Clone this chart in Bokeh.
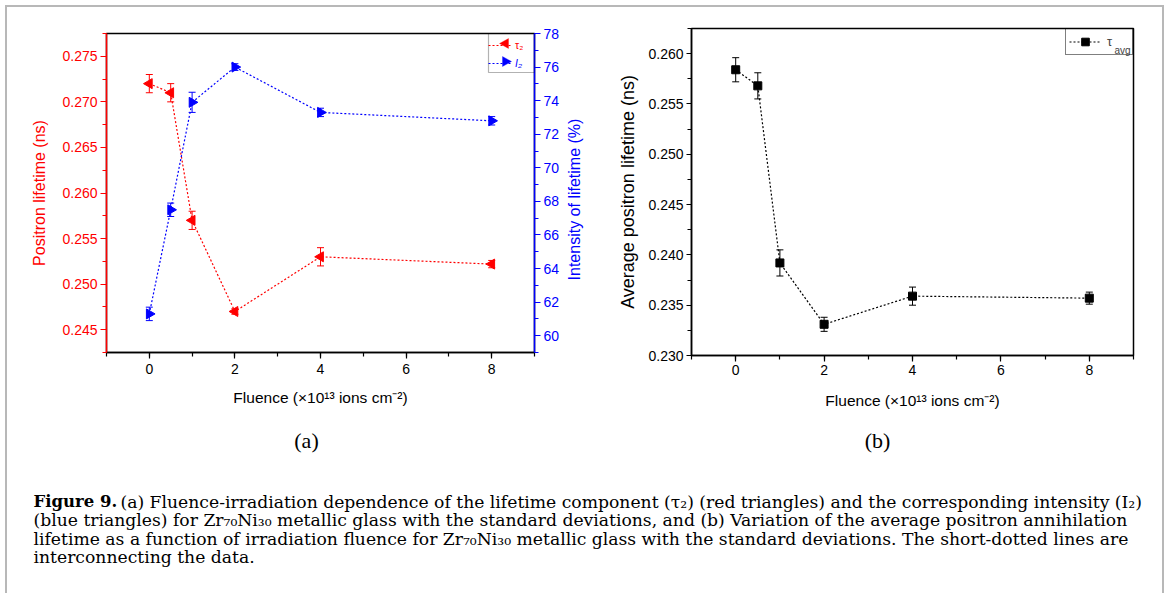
import numpy as np
from bokeh.plotting import figure
from bokeh.models import (Range1d, LinearAxis, SingleIntervalTicker, NumeralTickFormatter,
                          ColumnDataSource, Whisker, TeeHead, Legend, LegendItem,
                          BoxAnnotation, Label, PolyAnnotation)
from bokeh.layouts import column, row
from bokeh.embed import file_html
from bokeh.resources import INLINE
from bokeh.core.properties import value

# ---------------- data ----------------
fluence = [0, 0.5, 1, 2, 4, 8]
tau2 = [0.2720, 0.2710, 0.2570, 0.2470, 0.2530, 0.2522]
tau2_err = [0.0010, 0.0010, 0.0010, 0.0003, 0.0010, 0.0004]
i2 = [61.3, 67.5, 73.9, 76.0, 73.3, 72.8]
i2_err = [0.4, 0.4, 0.6, 0.2, 0.25, 0.25]
tau_avg = [0.2584, 0.2568, 0.2392, 0.2331, 0.2359, 0.2357]
tau_avg_err = [0.0012, 0.0013, 0.0013, 0.0007, 0.0009, 0.0006]

x_label = "Fluence (×10¹³ ions cm⁻²)"
right_label = "Intensity of lifetime (%)"
panel_labels = ["(a)", "(b)"]
caption_bold = "Figure 9."
caption_lines = [
    "(a) Fluence-irradiation dependence of the lifetime component (τ₂) (red triangles) and the corresponding intensity (I₂)",
    "(blue triangles) for Zr₇₀Ni₃₀ metallic glass with the standard deviations, and (b) Variation of the average positron annihilation",
    "lifetime as a function of irradiation fluence for Zr₇₀Ni₃₀ metallic glass with the standard deviations. The short-dotted lines are",
    "interconnecting the data.",
]

RED = "#ff0000"
BLUE = "#0000ff"
SANS = "Liberation Sans"
CAP_FONT = "DejaVu Serif"
DASH = "2 2"


def style_axis(ax, color, tick_out=6, minor_out=4, standoff=3, label_standoff=10, label_size="15.5px"):
    ax.axis_line_color = color
    ax.axis_line_width = 1.5
    ax.major_tick_line_color = color
    ax.minor_tick_line_color = color
    ax.major_tick_line_width = 1.2
    ax.minor_tick_line_width = 1.2
    ax.major_tick_in = 0
    ax.major_tick_out = tick_out
    ax.minor_tick_in = 0
    ax.minor_tick_out = minor_out
    ax.major_label_text_color = color
    ax.major_label_text_font = SANS
    ax.major_label_text_font_size = "14px"
    ax.major_label_standoff = standoff
    ax.axis_label_text_color = color
    ax.axis_label_text_font = SANS
    ax.axis_label_text_font_size = label_size
    ax.axis_label_text_font_style = "normal"
    ax.axis_label_standoff = label_standoff


def whisker(fig, x, y, err, color, y_range_name="default"):
    src = ColumnDataSource(dict(x=x, lo=np.array(y) - np.array(err), hi=np.array(y) + np.array(err)))
    w = Whisker(source=src, base="x", lower="lo", upper="hi", dimension="height",
                line_color=color, line_width=1,
                upper_head=TeeHead(size=7, line_color=color, line_width=1),
                lower_head=TeeHead(size=7, line_color=color, line_width=1),
                y_range_name=y_range_name)
    fig.add_layout(w)


def px2data(px, py, frame, xr, yr):
    """map page pixel position relative to a frame (l, r, t, b) to data coordinates"""
    l, r, t, b = frame
    return (xr[0] + (px - l) / (r - l) * (xr[1] - xr[0]),
            yr[1] - (py - t) / (b - t) * (yr[1] - yr[0]))


OX, OY = 7, 7          # page offset of layout content (margin + border)
H_TOP = 408
WA, WR = 559, 18       # panel (a), strip holding the right-axis title
WB = 1162 - (OX + WA + WR)

# ---------------- panel (a) ----------------
XR = (-1, 9)
YR_A = (0.2425, 0.2775)
FRAME_A = (106, 534, 33, 352)
pa = figure(width=WA, height=H_TOP, x_range=Range1d(*XR), y_range=Range1d(*YR_A),
            output_backend="svg", toolbar_location=None,
            min_border_left=FRAME_A[0] - OX, min_border_right=OX + WA - FRAME_A[1],
            min_border_top=FRAME_A[2] - OY, min_border_bottom=OY + H_TOP - FRAME_A[3])
pa.frame_align = False
pa.extra_y_ranges = {"i2": Range1d(59, 78)}
pa.grid.visible = False
pa.outline_line_color = "black"
pa.outline_line_width = 1.5

la = pa.line(fluence, tau2, line_color=RED, line_dash=DASH, line_width=1.2)
sa = pa.scatter(fluence, tau2, marker="triangle", angle=np.pi / 2, size=10,
                fill_color=RED, line_color=RED)
whisker(pa, fluence, tau2, tau2_err, RED)

lb = pa.line(fluence, i2, line_color=BLUE, line_dash=DASH, line_width=1.2, y_range_name="i2")
sb = pa.scatter(fluence, i2, marker="triangle", angle=-np.pi / 2, size=10,
                fill_color=BLUE, line_color=BLUE, y_range_name="i2")
whisker(pa, fluence, i2, i2_err, BLUE, "i2")

xa = pa.xaxis[0]
xa.ticker = SingleIntervalTicker(interval=2, num_minor_ticks=2)
xa.axis_label = x_label
style_axis(xa, "black", standoff=5, label_standoff=12)

ya = pa.yaxis[0]
ya.ticker = SingleIntervalTicker(interval=0.005, num_minor_ticks=2)
ya.formatter = NumeralTickFormatter(format="0.000")
ya.axis_label = "Positron lifetime (ns)"
style_axis(ya, RED, tick_out=6, standoff=3, label_standoff=11, label_size="16px")

ra = LinearAxis(y_range_name="i2", ticker=SingleIntervalTicker(interval=2, num_minor_ticks=2))
style_axis(ra, BLUE, tick_out=6, standoff=3, label_standoff=7)
pa.add_layout(ra, "right")

leg_kw = dict(border_line_color=None, background_fill_alpha=0, margin=0, padding=2,
              glyph_width=24, glyph_height=16, label_standoff=3, label_height=14,
              label_text_font=SANS, label_text_font_size="10.5px")
leg1 = Legend(items=[LegendItem(label="τ₂", renderers=[la])], location=(382, 299),
              label_text_color=RED, **leg_kw)
leg2 = Legend(items=[LegendItem(label="I₂", renderers=[lb])], location=(382, 281),
              label_text_color=BLUE, label_text_font_style="italic", **leg_kw)
pa.add_layout(leg1)
pa.add_layout(leg2)
bx0, by0 = px2data(488, 72, FRAME_A, XR, YR_A)
pa.add_layout(BoxAnnotation(left=bx0, right=XR[1], bottom=by0, top=YR_A[1],
                            fill_alpha=0, line_color="black", line_width=1.2))
# legend sample markers (left / right pointing triangles)
for pts, col in (([(499, 43), (508, 38), (508, 48)], RED), ([(502, 56), (502, 66), (511, 61)], BLUE)):
    d = [px2data(px, py, FRAME_A, XR, YR_A) for px, py in pts]
    pa.add_layout(PolyAnnotation(xs=[p[0] for p in d], ys=[p[1] for p in d],
                                 fill_color=col, fill_alpha=1, line_color=col, line_width=1))

# ---------------- strip with the right-axis title (reads bottom-to-top) ----------------
x0r = OX + WA
pr = figure(width=WR, height=H_TOP, x_range=Range1d(x0r, x0r + WR), y_range=Range1d(OY + H_TOP, OY),
            output_backend="svg", toolbar_location=None,
            min_border_left=0, min_border_right=0, min_border_top=0, min_border_bottom=0)
pr.frame_align = False
pr.axis.visible = False
pr.grid.visible = False
pr.outline_line_color = None
pr.text(x=[574], y=[199], text=[right_label], angle=np.pi / 2,
        text_align="center", text_baseline="middle", text_color=BLUE,
        text_font=value(SANS), text_font_size="16px")

# ---------------- panel (b) ----------------
YR_B = (0.230, 0.2625)
FRAME_B = (691, 1133, 28, 355)
x0b = OX + WA + WR
pb = figure(width=WB, height=H_TOP, x_range=Range1d(*XR), y_range=Range1d(*YR_B),
            output_backend="svg", toolbar_location=None,
            min_border_left=FRAME_B[0] - x0b, min_border_right=x0b + WB - FRAME_B[1],
            min_border_top=FRAME_B[2] - OY, min_border_bottom=OY + H_TOP - FRAME_B[3])
pb.frame_align = False
pb.grid.visible = False
pb.outline_line_color = "black"
pb.outline_line_width = 1.5

lc = pb.line(fluence, tau_avg, line_color="black", line_dash=DASH, line_width=1.2)
sc = pb.scatter(fluence, tau_avg, marker="square", size=8, fill_color="black", line_color="black")
whisker(pb, fluence, tau_avg, tau_avg_err, "black")

xb = pb.xaxis[0]
xb.ticker = SingleIntervalTicker(interval=2, num_minor_ticks=2)
xb.axis_label = x_label
style_axis(xb, "black", standoff=3, label_standoff=14)

yb = pb.yaxis[0]
yb.ticker = SingleIntervalTicker(interval=0.005, num_minor_ticks=2)
yb.formatter = NumeralTickFormatter(format="0.000")
yb.axis_label = "Average positron lifetime (ns)"
style_axis(yb, "black", tick_out=5, standoff=3, label_standoff=7, label_size="18px")

legc = Legend(items=[LegendItem(label="τ", renderers=[lc, sc])], location="top_right",
              border_line_color="black", border_line_width=1.2, background_fill_alpha=0,
              margin=0, padding=3, glyph_width=32, glyph_height=19, label_standoff=6,
              label_width=22, label_text_font=SANS, label_text_font_size="13px")
pb.add_layout(legc)
avx, avy = px2data(1114, 50, FRAME_B, XR, YR_B)
pb.add_layout(Label(x=avx, y=avy, text="avg", text_font=SANS, text_font_size="10px",
                    text_baseline="alphabetic"))

# ---------------- caption ----------------
CAP_H = 178
pc = figure(width=1155, height=CAP_H, x_range=Range1d(OX, 1162), y_range=Range1d(OY + H_TOP + CAP_H, OY + H_TOP),
            output_backend="svg", toolbar_location=None,
            min_border_left=0, min_border_right=0, min_border_top=0, min_border_bottom=0)
pc.axis.visible = False
pc.grid.visible = False
pc.outline_line_color = None

pc.text(x=[306, 877], y=[440, 440], text=panel_labels, text_align="center",
        text_baseline="alphabetic", text_font=value("Liberation Serif"), text_font_size="22px")
pc.text(x=[33], y=[501], text=[caption_bold], text_font=value(CAP_FONT), text_font_style="bold",
        text_font_size="16.5px", text_baseline="alphabetic")
pc.text(x=[120, 33, 33, 33], y=[501, 519.5, 538, 556.5], text=caption_lines,
        text_font=value(CAP_FONT), text_font_size="17.2px", text_baseline="alphabetic")

layout = column(row(pa, pr, pb), pc,
                styles={"border-top": "2px solid #b8b8b8", "border-left": "2px solid #b8b8b8",
                        "border-right": "2px solid #b8b8b8", "margin-left": "5px",
                        "margin-top": "5px"})

open("out.html", "w").write(file_html(layout, INLINE))
